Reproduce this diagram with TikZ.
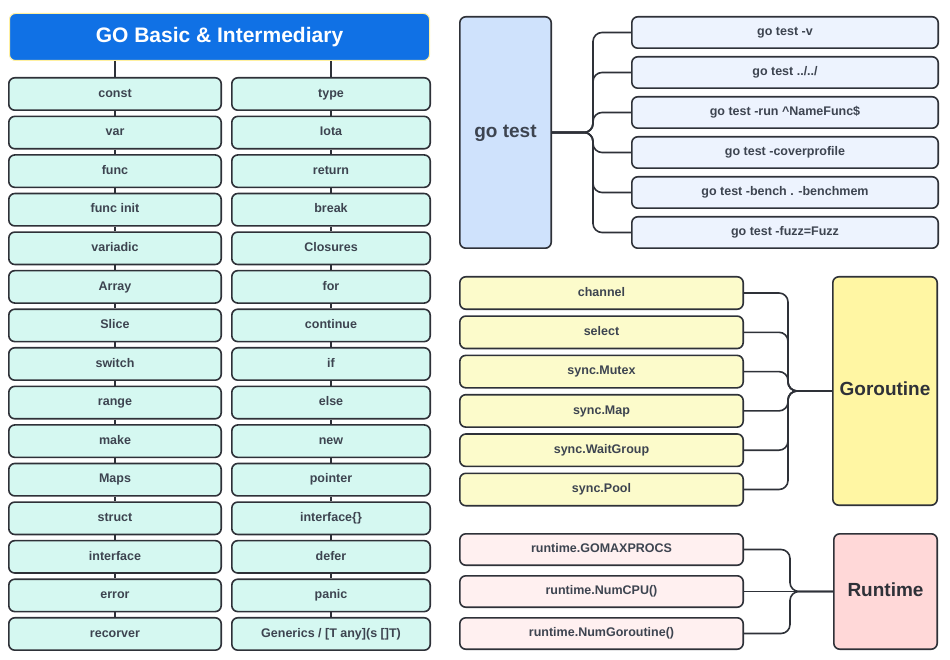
\documentclass[tikz,border=0pt]{standalone}
\usepackage{fontspec}
\setmainfont{Liberation Sans}
\usepackage{xcolor}
\usepackage{tikz}
\usetikzlibrary{arrows.meta, positioning}

\definecolor{titleblue}{HTML}{1071E5}
\definecolor{titleedge}{HTML}{FFF0A0}
\definecolor{edgegray}{HTML}{2E3138}
\definecolor{textgray}{HTML}{3D4450}
\definecolor{mint}{HTML}{D5F8F1}
\definecolor{testbig}{HTML}{CFE2FC}
\definecolor{testsub}{HTML}{EDF3FE}
\definecolor{gorbig}{HTML}{FFF6A3}
\definecolor{gorsub}{HTML}{FCFBCB}
\definecolor{rtbig}{HTML}{FFD8D8}
\definecolor{rtsub}{HTML}{FFF0F0}

\begin{document}
\begin{tikzpicture}[x=1pt, y=1pt, >=Stealth,
    item/.style={rectangle, rounded corners=6pt, draw=edgegray, line width=1.6pt, text=textgray,
        font=\bfseries\fontsize{12.5}{15}\selectfont, inner sep=0pt, text height=9pt, text depth=2.6pt},
    lcol/.style={item, fill=mint, minimum width=212.4pt, minimum height=32.4pt},
    rcol/.style={item, fill=mint, minimum width=198.4pt, minimum height=32.4pt},
    tsub/.style={item, fill=testsub, minimum width=306.4pt, minimum height=31.4pt},
    gsub/.style={item, fill=gorsub, minimum width=283.4pt, minimum height=32.4pt},
    rsub/.style={item, fill=rtsub, minimum width=283.4pt, minimum height=31.4pt},
    bigbox/.style={item, font=\bfseries\fontsize{19}{23}\selectfont, text height=13.7pt, text depth=4pt},
    conn/.style={draw=edgegray, line width=1.6pt, rounded corners=9pt}]
    \useasboundingbox (0,0) rectangle (950,-660);

    \node[rectangle, rounded corners=6pt, draw=titleedge, line width=1pt, fill=titleblue, text=white,
        font=\bfseries\fontsize{21}{25}\selectfont, text height=15pt, text depth=4.4pt,
        minimum width=420pt, minimum height=47pt] (title) at (219.5,-37) {GO Basic \& Intermediary};

    \node[lcol] (const) at (115,-94) {const};
    \node[lcol, below=4.57pt of const] (var) {var};
    \node[lcol, below=4.57pt of var] (func) {func};
    \node[lcol, below=4.57pt of func] (funcinit) {func init};
    \node[lcol, below=4.57pt of funcinit] (variadic) {variadic};
    \node[lcol, below=4.57pt of variadic] (array) {Array};
    \node[lcol, below=4.57pt of array] (slice) {Slice};
    \node[lcol, below=4.57pt of slice] (switch) {switch};
    \node[lcol, below=4.57pt of switch] (range) {range};
    \node[lcol, below=4.57pt of range] (make) {make};
    \node[lcol, below=4.57pt of make] (maps) {Maps};
    \node[lcol, below=4.57pt of maps] (struct) {struct};
    \node[lcol, below=4.57pt of struct] (interface) {interface};
    \node[lcol, below=4.57pt of interface] (error) {error};
    \node[lcol, below=4.57pt of error] (recorver) {recorver};

    \node[rcol] (type) at (331,-94) {type};
    \node[rcol, below=4.57pt of type] (iota) {Iota};
    \node[rcol, below=4.57pt of iota] (return) {return};
    \node[rcol, below=4.57pt of return] (break) {break};
    \node[rcol, below=4.57pt of break] (closures) {Closures};
    \node[rcol, below=4.57pt of closures] (for) {for};
    \node[rcol, below=4.57pt of for] (continue) {continue};
    \node[rcol, below=4.57pt of continue] (if) {if};
    \node[rcol, below=4.57pt of if] (else) {else};
    \node[rcol, below=4.57pt of else] (new) {new};
    \node[rcol, below=4.57pt of new] (pointer) {pointer};
    \node[rcol, below=4.57pt of pointer] (ifaceany) {interface\{\}};
    \node[rcol, below=4.57pt of ifaceany] (defer) {defer};
    \node[rcol, below=4.57pt of defer] (panic) {panic};
    \node[rcol, below=4.57pt of panic] (generics) {Generics / [T any](s []T)};

    \draw[conn] (title.south -| const.north) -- (const.north);
    \draw[conn] (title.south -| type.north) -- (type.north);
    \draw[conn] (const) -- (var);
    \draw[conn] (var) -- (func);
    \draw[conn] (func) -- (funcinit);
    \draw[conn] (funcinit) -- (variadic);
    \draw[conn] (variadic) -- (array);
    \draw[conn] (array) -- (slice);
    \draw[conn] (slice) -- (switch);
    \draw[conn] (switch) -- (range);
    \draw[conn] (range) -- (make);
    \draw[conn] (make) -- (maps);
    \draw[conn] (maps) -- (struct);
    \draw[conn] (struct) -- (interface);
    \draw[conn] (interface) -- (error);
    \draw[conn] (error) -- (recorver);
    \draw[conn] (type) -- (iota);
    \draw[conn] (iota) -- (return);
    \draw[conn] (return) -- (break);
    \draw[conn] (break) -- (closures);
    \draw[conn] (closures) -- (for);
    \draw[conn] (for) -- (continue);
    \draw[conn] (continue) -- (if);
    \draw[conn] (if) -- (else);
    \draw[conn] (else) -- (new);
    \draw[conn] (new) -- (pointer);
    \draw[conn] (pointer) -- (ifaceany);
    \draw[conn] (ifaceany) -- (defer);
    \draw[conn] (defer) -- (panic);
    \draw[conn] (panic) -- (generics);

    \node[bigbox, fill=testbig, minimum width=91.4pt, minimum height=231.4pt] (gotest) at (505.5,-132.5) {go test};
    \node[tsub] (tv) at (785,-32.5) {go test -v};
    \node[tsub, below=7pt of tv] (tdir) {go test ../../};
    \node[tsub, below=7pt of tdir] (trun) {go test -run \textasciicircum NameFunc\$};
    \node[tsub, below=7pt of trun] (tcover) {go test -coverprofile};
    \node[tsub, below=7pt of tcover] (tbench) {go test -bench . -benchmem};
    \node[tsub, below=7pt of tbench] (tfuzz) {go test -fuzz=Fuzz};

    \coordinate (tk) at (593,-132.5);
    \draw[conn] (gotest.east) -- (tk) |- (tv.west);
    \draw[conn] (gotest.east) -- (tk) |- (tdir.west);
    \draw[conn] (gotest.east) -- (tk) |- (trun.west);
    \draw[conn] (gotest.east) -- (tk) |- (tcover.west);
    \draw[conn] (gotest.east) -- (tk) |- (tbench.west);
    \draw[conn] (gotest.east) -- (tk) |- (tfuzz.west);

    \node[bigbox, fill=gorbig, text=edgegray, minimum width=104.4pt, minimum height=228.4pt] (goroutine) at (885,-391) {Goroutine};
    \node[gsub] (channel) at (601.5,-293) {channel};
    \node[gsub, below=5.3pt of channel] (select) {select};
    \node[gsub, below=5.3pt of select] (mutex) {sync.Mutex};
    \node[gsub, below=5.3pt of mutex] (syncmap) {sync.Map};
    \node[gsub, below=5.3pt of syncmap] (waitgroup) {sync.WaitGroup};
    \node[gsub, below=5.3pt of waitgroup] (pool) {sync.Pool};

    \coordinate (gk) at (788,-391);
    \draw[conn] (channel.east) -| (gk) -- (goroutine.west);
    \draw[conn] (select.east) -| (gk) -- (goroutine.west);
    \draw[conn] (mutex.east) -| (gk) -- (goroutine.west);
    \draw[conn] (syncmap.east) -| (gk) -- (goroutine.west);
    \draw[conn] (waitgroup.east) -| (gk) -- (goroutine.west);
    \draw[conn] (pool.east) -| (gk) -- (goroutine.west);

    \node[bigbox, fill=rtbig, text=edgegray, minimum width=103.4pt, minimum height=115.4pt] (runtime) at (885.5,-591.5) {Runtime};
    \node[rsub] (gomaxprocs) at (601.5,-549.5) {runtime.GOMAXPROCS};
    \node[rsub, below=9pt of gomaxprocs] (numcpu) {runtime.NumCPU()};
    \node[rsub, below=9pt of numcpu] (numgor) {runtime.NumGoroutine()};

    \coordinate (rk) at (790,-591.5);
    \draw[conn] (gomaxprocs.east) -| (rk) -- (runtime.west);
    \draw[conn] (numcpu) -- (runtime);
    \draw[conn] (numgor.east) -| (rk) -- (runtime.west);
\end{tikzpicture}
\end{document}
